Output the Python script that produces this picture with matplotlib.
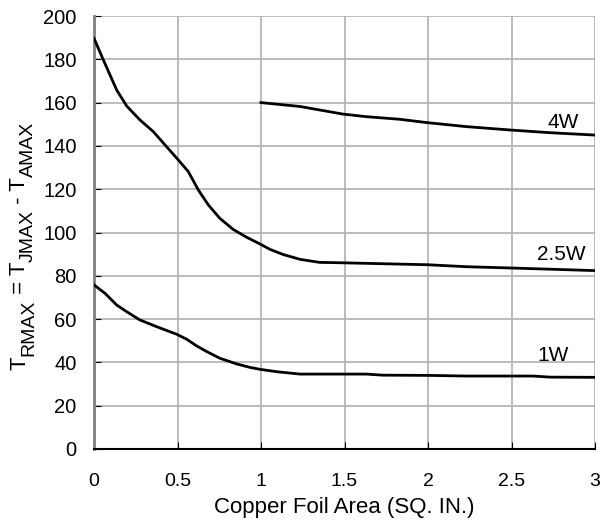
import matplotlib.pyplot as plt
from matplotlib.transforms import IdentityTransform

plt.rcParams['font.family'] = ['Liberation Sans', 'DejaVu Sans']

# 1W curve
x_1w = [0, 0.066, 0.136, 0.196, 0.275, 0.375, 0.495, 0.555, 0.615, 0.675,
        0.754, 0.854, 0.934, 0.994, 1.094, 1.234, 1.63, 1.73, 2.0, 2.23,
        2.63, 2.73, 3.0]
y_1w = [75.8, 71.9, 66.5, 63.4, 59.6, 56.5, 53.0, 50.7, 47.6, 45.0,
        41.9, 39.3, 37.7, 36.8, 35.7, 34.6, 34.6, 34.1, 34.0, 33.7,
        33.7, 33.2, 33.1]

# 2.5W curve
x_25w = [0, 0.056, 0.136, 0.196, 0.275, 0.355, 0.435, 0.505, 0.565, 0.625,
         0.685, 0.754, 0.834, 0.914, 0.994, 1.054, 1.134, 1.234, 1.35, 1.49,
         2.0, 2.23, 2.5, 3.0]
y_25w = [189.7, 179.7, 165.8, 158.4, 152.0, 146.6, 139.6, 133.5, 128.1, 119.6,
         112.7, 106.5, 101.4, 97.8, 94.7, 92.2, 89.8, 87.6, 86.2, 86.0,
         85.1, 84.2, 83.6, 82.4]

# 4W curve
x_4w = [1.0, 1.234, 1.49, 1.63, 1.83, 2.0, 2.23, 2.5, 2.73, 3.0]
y_4w = [160, 158.2, 154.7, 153.5, 152.3, 150.7, 148.9, 147.3, 146.1, 145.0]

labels = ['4W', '2.5W', '1W']
label_x = [2.81, 2.80, 2.75]
label_y = [150.6, 90, 43]

fig = plt.figure(figsize=(6.02, 5.26), dpi=100)
ax = fig.add_axes([94 / 602, 77 / 526, 501 / 602, 433 / 526])

for xs, ys in [(x_1w, y_1w), (x_25w, y_25w), (x_4w, y_4w)]:
    ax.plot(xs, ys, color='black', lw=2, zorder=3, solid_joinstyle='round')

for t, lx, ly in zip(labels, label_x, label_y):
    ax.text(lx, ly, t, fontsize=15, ha='center', va='center')

ax.set_xlim(0, 3)
ax.set_ylim(0, 200)
ax.set_xticks([0, 0.5, 1, 1.5, 2, 2.5, 3])
ax.set_xticklabels(['0', '0.5', '1', '1.5', '2', '2.5', '3'])
ax.set_yticks(range(0, 201, 20))
ax.grid(True, color='#b0b0b0', lw=1.2)
ax.set_axisbelow(True)

ax.spines['top'].set_visible(False)
ax.spines['right'].set_visible(False)
ax.spines['left'].set_color('#808080')
ax.spines['left'].set_linewidth(2)
ax.spines['bottom'].set_linewidth(1.5)
ax.tick_params(axis='x', direction='in', length=5, labelsize=14, pad=17)
ax.tick_params(axis='y', direction='in', length=5, labelsize=14.5, pad=12.5)

ax.set_xlabel('Copper Foil Area (SQ. IN.)', fontsize=16, va='top')
ax.xaxis.set_label_coords(0.5, -0.111)

# y label built from pieces so the subscripts stay large
pieces = [('T', 16, 25), ('RMAX', 14, 33), (' = T', 16, 25), ('JMAX', 14, 33),
          (' - T', 16, 25), ('AMAX', 14, 33)]
renderer = fig.canvas.get_renderer()
ypos = 526 - 370
for s, size, bx in pieces:
    t = fig.text(bx, ypos, s, fontsize=size, rotation=90, rotation_mode='anchor',
                 ha='left', va='baseline', transform=IdentityTransform())
    ypos += t.get_window_extent(renderer).height

fig.savefig('out.png', dpi=100)
